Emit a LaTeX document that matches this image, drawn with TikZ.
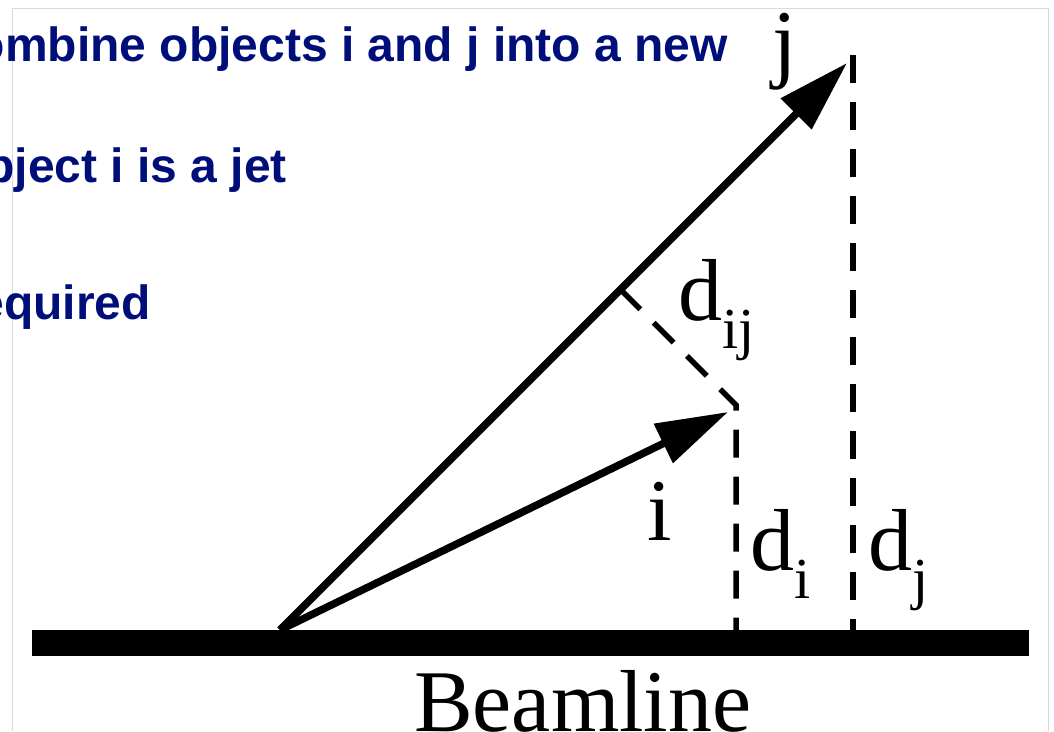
\documentclass[tikz,border=0pt]{standalone}
\usepackage{fontspec}
\setmainfont{Liberation Serif}
\newfontfamily\headfont{Liberation Sans}
\usetikzlibrary{arrows.meta}
\definecolor{headblue}{RGB}{0,14,122}
\definecolor{framegray}{RGB}{217,217,217}
\tikzset{
  headline/.style={inner sep=0pt, anchor=base east, text=headblue,
    font=\headfont\bfseries\fontsize{48}{48}\selectfont},
  vec/.style={line width=7.5pt, -{Triangle[length=72pt,width=42pt]}},
  dline/.style={line width=5.5pt, dash pattern=on 28pt off 19pt},
  serif88/.style={inner sep=0pt, font=\fontsize{88}{88}\selectfont},
  dlabel/.style={inner sep=0pt, anchor=base west, font=\fontsize{88}{88}\selectfont}
}
\newcommand{\sbs}[1]{\raisebox{-28pt}{\fontsize{58}{58}\selectfont #1}}
\begin{document}
\begin{tikzpicture}[x=1pt,y=-1pt]
\useasboundingbox (0,0) rectangle (1054,731);
% frame
\draw[framegray, line width=1pt] (12,731) -- (12,8) -- (1048,8) -- (1048,731);
% heading text (cut at left edge)
\node[headline] (h1) at (728,61) {Combine objects i and j into a new};
\node[headline] (h2) at (287,182) {object i is a jet};
\node[headline] (h3) at (151,319) {required};
% beamline
\fill (32,630) rectangle (1029,656);
\node[serif88, anchor=base west] (beam) at (414,731) {Beamline};
% points
\coordinate (o) at (280,630);
\coordinate (tj) at (847,63);
\coordinate (ti) at (728,412);
\coordinate (foot) at (620.5,289.5);
\coordinate (ci) at (736,405);
\coordinate (bi) at (736,630);
\coordinate (tjd) at (853,55);
\coordinate (bj) at (853,630);
% dashed lines
\draw[dline] (foot) -- (ci) -- (bi);
\draw[dline] (tjd) -- (bj);
% vectors
\draw[vec] (o) -- (tj);
\draw[vec] (o) -- (ti);
% labels
\node[serif88, anchor=base] (lj) at (785,71) {j};
\node[serif88, anchor=base] (li) at (660,540) {i};
\node[dlabel] (dij) at (678,320) {d\sbs{ij}};
\node[dlabel] (di) at (750,570) {d\sbs{i}};
\node[dlabel] (dj) at (868,570) {d\sbs{j}};
\end{tikzpicture}
\end{document}
